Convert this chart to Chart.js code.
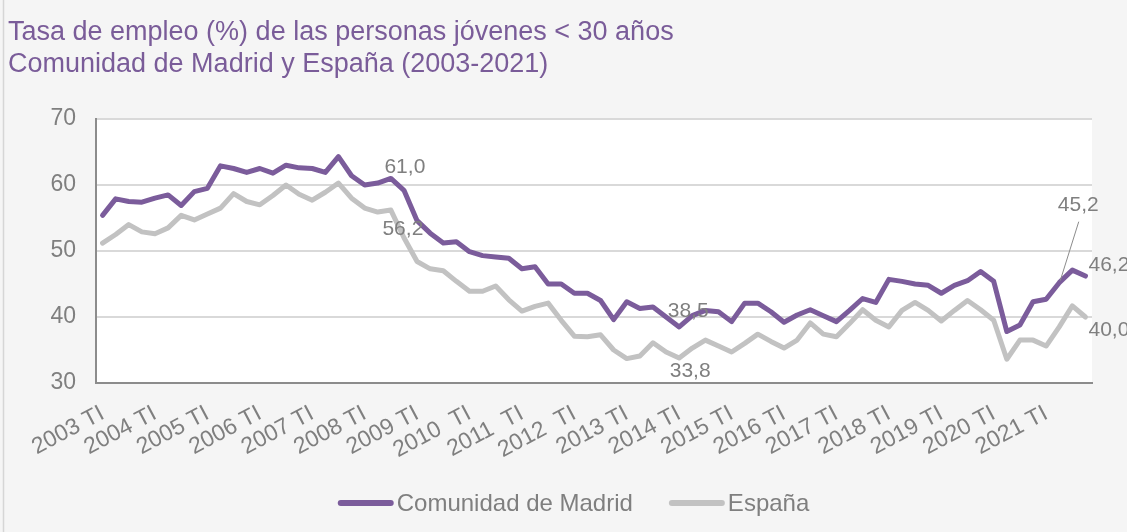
<!DOCTYPE html>
<html><head><meta charset="utf-8">
<script src="https://cdn.jsdelivr.net/npm/chart.js@4.4.0/dist/chart.umd.min.js"></script>
<style>html,body{margin:0;padding:0;background:#f5f5f5;overflow:hidden}</style>
</head><body>
<canvas id="c" width="1127" height="532" style="display:block;width:1127px;height:532px"></canvas>
<script>
const titleLines = ["Tasa de empleo (%) de las personas jóvenes < 30 años", "Comunidad de Madrid y España (2003-2021)"];
const seriesNames = ["Comunidad de Madrid", "España"];
const years = [2003,2004,2005,2006,2007,2008,2009,2010,2011,2012,2013,2014,2015,2016,2017,2018,2019,2020,2021];
const quarters = ["TI","TII","TIII","TIV"];
const tickLabels = ["2003 TI","2004 TI","2005 TI","2006 TI","2007 TI","2008 TI","2009 TI","2010  TI","2011  TI","2012  TI","2013 TI","2014 TI","2015 TI","2016 TI","2017 TI","2018 TI","2019 TI","2020 TI","2021 TI"];
const yTicks = [30,40,50,60,70];
const madrid = [55.4,57.9,57.5,57.4,58.0,58.5,56.9,59.0,59.5,62.9,62.5,61.9,62.5,61.8,63.0,62.6,
  62.5,61.9,64.3,61.4,60.0,60.3,61.0,59.2,54.6,52.7,51.2,51.4,49.9,49.3,49.1,48.9,
  47.3,47.6,45.0,45.0,43.6,43.6,42.5,39.6,42.3,41.3,41.5,40.0,38.5,40.2,41.0,40.8,
  39.3,42.1,42.1,40.8,39.2,40.3,41.1,40.2,39.3,41.0,42.8,42.2,45.7,45.4,45.0,44.8,
  43.6,44.8,45.5,46.9,45.4,37.8,38.8,42.3,42.7,45.2,47.1,46.2];
const espana = [51.2,52.5,54.0,52.9,52.6,53.5,55.4,54.7,55.6,56.5,58.7,57.5,57.0,58.4,60.0,58.6,
  57.7,58.9,60.3,58.0,56.5,55.9,56.2,52.0,48.4,47.3,47.0,45.4,43.9,43.9,44.7,42.6,
  40.9,41.6,42.1,39.5,37.1,37.0,37.3,35.0,33.7,34.1,36.1,34.7,33.8,35.3,36.5,35.6,
  34.7,36.0,37.4,36.3,35.3,36.5,39.1,37.4,37.0,39.0,41.1,39.5,38.5,41.0,42.2,41.0,
  39.4,41.0,42.5,41.1,39.5,33.6,36.5,36.5,35.6,38.5,41.7,40.0];
const categories = [];
years.forEach(y => quarters.forEach(q => categories.push(y + " " + q)));
// which points carry a value label: [series index, point index]
const labelledPoints = [[0,22],[1,22],[0,44],[1,44],[0,73],[0,75],[1,75]];

const FONT = "'Liberation Sans', Arial, sans-serif";
const PURPLE = '#7b5c9b';
const GREY_LINE = '#c2c2c2';
const TEXT_GREY = '#7f7f7f';

// label placement styling (offsets from the point, in px)
const labelStyle = {
  "0-22": {dx:14, dy:-11, align:'center'},
  "1-22": {dx:12, dy:19, align:'center'},
  "0-44": {dx:9, dy:-16, align:'center'},
  "1-44": {dx:11, dy:13, align:'center'},
  "0-73": {dx:19, dy:-77, align:'center', leader:true},
  "0-75": {dx:3, dy:-11, align:'left'},
  "1-75": {dx:3, dy:13, align:'left'}
};

const deco = {
  id: 'deco',
  beforeDraw(chart) {
    const {ctx, chartArea: a} = chart;
    ctx.save();
    ctx.fillStyle = '#f5f5f5';
    ctx.fillRect(0, 0, chart.width, chart.height);
    ctx.strokeStyle = '#d6d6d6';
    ctx.lineWidth = 1.5;
    ctx.beginPath(); ctx.moveTo(3.5, 0); ctx.lineTo(3.5, chart.height); ctx.stroke();
    ctx.fillStyle = '#ffffff';
    ctx.fillRect(a.left, a.top, a.right - a.left, a.bottom - a.top);
    ctx.restore();
  },
  afterDraw(chart) {
    const ctx = chart.ctx;
    const xs = chart.scales.x, ys = chart.scales.y;
    const series = [madrid, espana];
    ctx.save();
    // value labels
    ctx.font = "21px " + FONT;
    ctx.fillStyle = TEXT_GREY;
    ctx.textBaseline = 'middle';
    labelledPoints.forEach(([s, i]) => {
      const st = labelStyle[s + "-" + i];
      const v = series[s][i];
      const px = xs.getPixelForValue(i), py = ys.getPixelForValue(v);
      ctx.textAlign = st.align;
      ctx.fillText(v.toFixed(1).replace('.', ','), px + st.dx, py + st.dy);
      if (st.leader) {
        ctx.strokeStyle = '#8c8c8c';
        ctx.lineWidth = 1;
        ctx.beginPath();
        ctx.moveTo(px + st.dx + 0.5, py + st.dy + 16);
        ctx.lineTo(px + 1, py - 2);
        ctx.stroke();
      }
    });
    // title
    ctx.textAlign = 'left';
    ctx.textBaseline = 'alphabetic';
    ctx.fillStyle = '#7a5c99';
    ctx.font = "27px " + FONT;
    ctx.fillText(titleLines[0], 8, 40);
    ctx.fillText(titleLines[1], 8, 72);
    // legend
    ctx.font = "24px " + FONT;
    const sw = 56, gapT = 3, gapI = 36;
    const w0 = ctx.measureText(seriesNames[0]).width, w1 = ctx.measureText(seriesNames[1]).width;
    const total = sw + gapT + w0 + gapI + sw + gapT + w1;
    let x = 573.5 - total / 2;
    const ly = 503;
    const colors = [PURPLE, GREY_LINE];
    [w0, w1].forEach((w, k) => {
      ctx.strokeStyle = colors[k];
      ctx.lineWidth = 6;
      ctx.lineCap = 'round';
      ctx.beginPath(); ctx.moveTo(x + 3, ly); ctx.lineTo(x + sw - 3, ly); ctx.stroke();
      ctx.fillStyle = TEXT_GREY;
      ctx.fillText(seriesNames[k], x + sw + gapT, ly + 8);
      x += sw + gapT + w + gapI;
    });
    ctx.restore();
  }
};

new Chart(document.getElementById('c'), {
  type: 'line',
  data: {
    labels: categories,
    datasets: [
      {label: seriesNames[0], data: madrid, borderColor: PURPLE, borderWidth: 5, pointRadius: 0, tension: 0, borderJoinStyle: 'round', borderCapStyle: 'round'},
      {label: seriesNames[1], data: espana, borderColor: GREY_LINE, borderWidth: 5, pointRadius: 0, tension: 0, borderJoinStyle: 'round', borderCapStyle: 'round'}
    ].reverse()
  },
  options: {
    responsive: false,
    animation: false,
    devicePixelRatio: 1,
    layout: {padding: {top: 119, left: 0, right: 35, bottom: 0}},
    plugins: {legend: {display: false}, title: {display: false}, tooltip: {enabled: false}},
    scales: {
      x: {
        offset: true,
        grid: {display: false, drawTicks: false},
        border: {display: true, color: '#8c8c8c', width: 2},
        ticks: {autoSkip: false, minRotation: 28, maxRotation: 28, padding: 17, color: TEXT_GREY,
          font: {family: FONT, size: 23},
          callback: (v, i) => (i % 4 === 0 ? tickLabels[i / 4] : '')},
        afterFit: s => { s.height = 149; }
      },
      y: {
        min: yTicks[0], max: yTicks[yTicks.length - 1],
        afterBuildTicks: s => { s.ticks = yTicks.map(v => ({value: v})); },
        grid: {color: '#d9d9d9', lineWidth: 2, drawTicks: false},
        border: {display: true, color: '#8c8c8c', width: 2},
        ticks: {padding: 20, color: TEXT_GREY, font: {family: FONT, size: 23}},
        afterFit: s => { s.width = 96; }
      }
    }
  },
  plugins: [deco]
});
</script>
</body></html>
